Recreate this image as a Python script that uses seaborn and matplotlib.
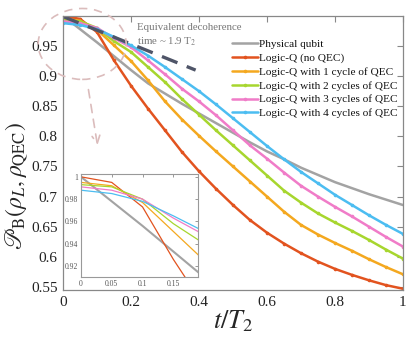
import numpy as np
import pandas as pd
import matplotlib
matplotlib.use("Agg")
import matplotlib.pyplot as plt
import seaborn as sns
from matplotlib.patches import Ellipse

# ---------------- data ----------------
t = [0.0, 0.05, 0.1, 0.15, 0.2, 0.25, 0.3, 0.35, 0.4, 0.45, 0.5,
     0.55, 0.6, 0.65, 0.7, 0.75, 0.8, 0.85, 0.9, 0.95, 1.0]

physical = [1.0, 0.978, 0.956, 0.933, 0.910, 0.888, 0.871, 0.854, 0.838, 0.822, 0.806,
            0.790, 0.775, 0.762, 0.748, 0.736, 0.724, 0.714, 0.704, 0.695, 0.686]
no_qec = [1.0, 0.995, 0.973, 0.926, 0.884, 0.846, 0.810, 0.774, 0.742, 0.713, 0.686,
          0.661, 0.640, 0.622, 0.606, 0.592, 0.580, 0.570, 0.561, 0.553, 0.547]
qec1 = [0.995, 0.992, 0.977, 0.951, 0.925, 0.893, 0.858, 0.828, 0.801, 0.775, 0.750,
        0.725, 0.700, 0.675, 0.653, 0.637, 0.623, 0.610, 0.596, 0.583, 0.571]
qec2 = [0.993, 0.991, 0.980, 0.958, 0.940, 0.915, 0.890, 0.862, 0.836, 0.810, 0.785,
        0.760, 0.735, 0.710, 0.690, 0.672, 0.657, 0.643, 0.628, 0.612, 0.597]
qec3 = [0.991, 0.988, 0.980, 0.963, 0.948, 0.926, 0.903, 0.879, 0.858, 0.835, 0.810,
        0.785, 0.763, 0.740, 0.718, 0.700, 0.683, 0.667, 0.650, 0.633, 0.617]
qec4 = [0.988, 0.985, 0.978, 0.965, 0.951, 0.934, 0.915, 0.895, 0.875, 0.853, 0.830,
        0.807, 0.784, 0.762, 0.741, 0.722, 0.703, 0.686, 0.669, 0.653, 0.638]

equiv_t = [0.0, 0.39]
equiv_val = [0.999, 0.910]

labels = ["Physical qubit", "Logic-Q (no QEC)", "Logic-Q with 1 cycle of QEC",
          "Logic-Q with 2 cycles of QEC", "Logic-Q with 3 cycles of QEC",
          "Logic-Q with 4 cycles of QEC"]
series = [physical, no_qec, qec1, qec2, qec3, qec4]
colors = ["#a3a3a3", "#e2531f", "#f4a81f", "#a7d62e", "#f07cc8", "#4cbdf1"]

xticks = [0, 0.2, 0.4, 0.6, 0.8, 1]
yticks = [0.55, 0.6, 0.65, 0.7, 0.75, 0.8, 0.85, 0.9, 0.95]
inset_xticks = [0, 0.05, 0.1, 0.15]
inset_yticks = [0.92, 0.94, 0.96, 0.98, 1.0]

# ---------------- style ----------------
sns.set_theme(style="white")
plt.rcParams["font.family"] = ["Liberation Serif", "DejaVu Serif"]
plt.rcParams["mathtext.fontset"] = "stix"

df = pd.DataFrame({
    "t": np.tile(t, len(series)),
    "value": np.concatenate(series),
    "series": np.repeat(labels, len(t)),
})

fig = plt.figure(figsize=(4.15, 3.46), dpi=100)
ax = fig.add_axes([0.152, 0.162, 0.819, 0.792])

for lab, col in zip(labels, colors):
    sub = df[df["series"] == lab]
    if lab == "Physical qubit":
        sns.lineplot(data=sub, x="t", y="value", ax=ax, color=col, lw=1.8,
                     label=lab, sort=False)
    else:
        sns.lineplot(data=sub, x="t", y="value", ax=ax, color=col, lw=1.8,
                     marker="o", markersize=2.6, markeredgewidth=0,
                     label=lab, sort=False)

ax.plot(equiv_t, equiv_val, color="#4f5568", lw=2.4, dashes=(5, 3))

ax.set_xlim(0, 1)
ax.set_ylim(0.545, 1.0)
ax.set_xticks(xticks)
ax.set_yticks(yticks)
ax.set_xticklabels([f"{v:g}" for v in xticks])
ax.set_yticklabels([f"{v:g}" for v in yticks])
ax.tick_params(direction="in", length=4, width=0.8, color="#888888",
               labelsize=11, top=True, right=True, labelcolor="#222222", pad=4)
for s in ax.spines.values():
    s.set_color("#888888")
    s.set_linewidth(0.9)

ax.set_xlabel(r"$t/T_2$", fontsize=19, labelpad=0)
ax.set_ylabel(r"$\mathscr{P}_{\mathrm{B}}(\rho_L,\rho_{\mathrm{QEC}})$", fontsize=17)
ax.yaxis.set_label_coords(-0.098, 0.38)

leg = ax.legend(loc="upper right", bbox_to_anchor=(1.005, 0.94), frameon=False,
                fontsize=8.1, handlelength=2.3, handletextpad=0.1,
                labelspacing=0.35, borderaxespad=0.2)
for txt in leg.get_texts():
    txt.set_color("#111111")

ax.text(0.218, 0.975, "Equivalent decoherence\ntime ~ 1.9 T$_2$",
        transform=ax.transAxes, fontsize=7.8, color="#777777",
        va="top", ha="left", linespacing=1.45)

# dashed ellipse and arrow (figure coordinates)
ell = Ellipse((0.198, 0.873), 0.212, 0.205, transform=fig.transFigure,
              fill=False, ls=(0, (5, 4)), lw=1.2, ec="#dbbcbc", clip_on=False)
fig.patches.append(ell)
ax.annotate("", xy=(0.236, 0.572), xytext=(0.212, 0.749),
            xycoords="figure fraction", textcoords="figure fraction",
            arrowprops=dict(arrowstyle="->", ls=(0, (5, 4)), lw=1.2,
                            color="#dbbcbc", mutation_scale=14))

# ---------------- inset ----------------
axin = fig.add_axes([0.195, 0.199, 0.282, 0.298])
for lab, col in zip(labels, colors):
    sub = df[df["series"] == lab]
    sns.lineplot(data=sub, x="t", y="value", ax=axin, color=col,
                 lw=1.5 if lab == "Physical qubit" else 0.9, sort=False, legend=False)
axin.set_xlim(0, 0.19)
axin.set_ylim(0.91, 1.0025)
axin.set_xticks(inset_xticks)
axin.set_yticks(inset_yticks)
axin.set_xticklabels([f"{v:g}" for v in inset_xticks])
axin.set_yticklabels([f"{v:g}" for v in inset_yticks])
axin.set_xlabel("")
axin.set_ylabel("")
axin.tick_params(direction="in", length=2.5, width=0.6, color="#888888",
                 labelsize=5.5, top=True, right=True, labelcolor="#555555", pad=2)
for s in axin.spines.values():
    s.set_color("#999999")
    s.set_linewidth(0.8)

fig.savefig("out.png", dpi=100)
